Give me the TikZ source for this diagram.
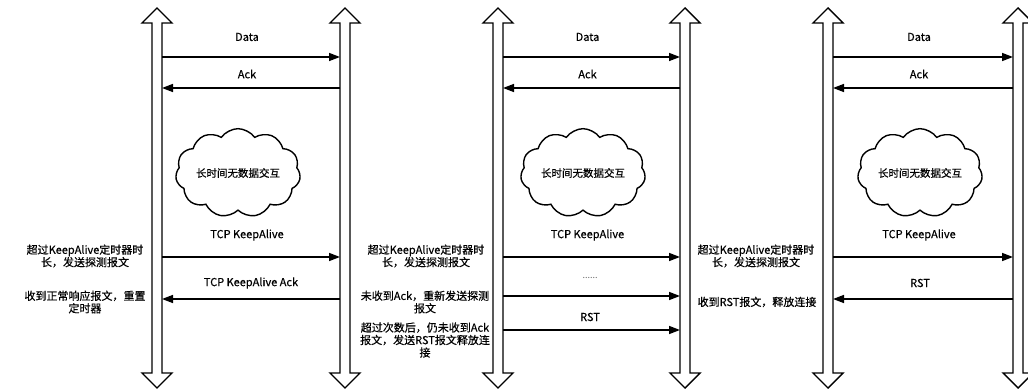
\documentclass[tikz,border=0pt]{standalone}
\usepackage{fontspec}
\setmainfont{Noto Sans CJK SC}[FakeBold=0.5]
\newfontfamily\dotsfont{Noto Sans CJK SC}
\usetikzlibrary{arrows.meta,shapes.symbols}

\tikzset{
  lifeline/.style={draw=black, line width=1.4pt, fill=white, line join=miter},
  msg/.style={line width=1.5pt, -{Triangle[length=11pt,width=8pt]}},
  msglabel/.style={inner sep=0pt, font=\fontsize{11}{12.5}\selectfont},
  note/.style={align=center, inner sep=0pt, font=\fontsize{11}{12.5}\selectfont},
  idle/.style={cloud, draw, line width=1.4pt, cloud puffs=11, cloud puff arc=110,
    aspect=1.6, minimum width=113pt, minimum height=72pt, inner sep=0pt,
    font=\fontsize{10.5}{12.5}\selectfont}
}

\begin{document}
\begin{tikzpicture}[x=1pt, y=-1pt]
  \useasboundingbox (0,0) rectangle (1028,390);

  % the two hosts of each case, first messages and idle cloud
  \foreach \p/\a/\b/\c in {1/157/345/238, 2/498/685/583, 3/828/1018/920} {
    \foreach \x in {\a,\b}
      \draw[lifeline] (\x-5,23) -- (\x-15,23) -- (\x,8) -- (\x+15,23) -- (\x+5,23)
        -- (\x+5,373) -- (\x+15,373) -- (\x,388) -- (\x-15,373) -- (\x-5,373) -- cycle;
    \coordinate (A\p) at (\a+5,0);
    \coordinate (B\p) at (\b-5,0);
    \node[msglabel] (data\p) at ({(\a+\b)/2-4},37) {Data};
    \node[msglabel] (ack\p) at ({(\a+\b)/2-4},74) {Ack};
    \draw[msg] (A\p |- 0,57) -- (B\p |- 0,57);
    \draw[msg] (B\p |- 0,88) -- (A\p |- 0,88);
    \node[idle] (quiet\p) at (\c,173) {长时间无数据交互};
    \node[msglabel] (probe\p) at ({(\a+\b)/2-4},235) {TCP KeepAlive};
    \draw[msg] (A\p |- 0,257) -- (B\p |- 0,257);
    \node[note] (timeout\p) at (\a-72,256) {超过KeepAlive定时器时\\长，发送探测报文};
  }

  % case 1: probe answered
  \node[msglabel] (reply1) at (251,283) {TCP KeepAlive Ack};
  \draw[msg] (B1 |- 0,299) -- (A1 |- 0,299);
  \node[note] (reset1) at (85,302) {收到正常响应报文，重置\\定时器};

  % case 2: no answer, give up with RST
  \node[msglabel, text=black!60, font=\dotsfont\fontsize{9}{10}\selectfont] (more2) at (590,278) {......};
  \draw[msg] (A2 |- 0,296) -- (B2 |- 0,296);
  \node[msglabel] (rst2) at (590,317) {RST};
  \draw[msg] (A2 |- 0,330) -- (B2 |- 0,330);
  \node[note] (retry2) at (425,302) {未收到Ack，重新发送探测\\报文};
  \node[note] (close2) at (425,340) {超过次数后，仍未收到Ack\\报文，发送RST报文释放连\\接};

  % case 3: peer answers with RST
  \node[msglabel] (rst3) at (920,283) {RST};
  \draw[msg] (B3 |- 0,299) -- (A3 |- 0,299);
  \node[note] (close3) at (757,302) {收到RST报文，释放连接};
\end{tikzpicture}
\end{document}
